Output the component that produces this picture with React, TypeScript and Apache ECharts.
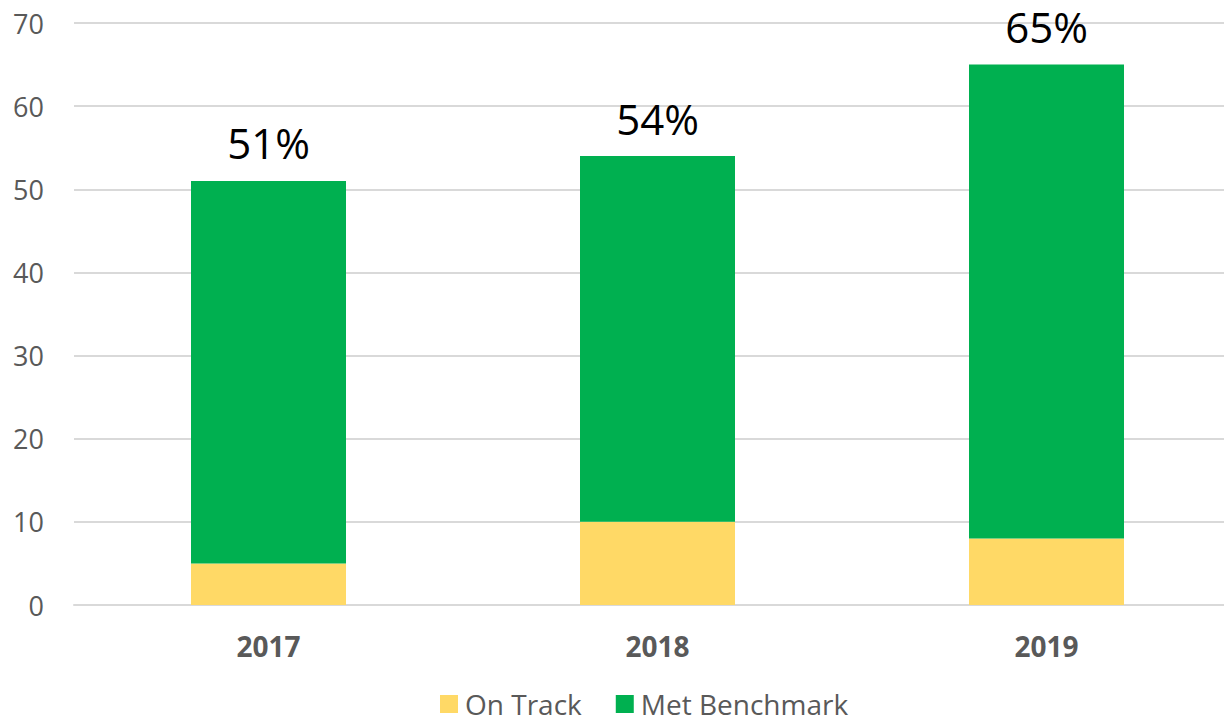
import React, { useEffect, useRef } from "react";
import * as echarts from "echarts";

const categories = ["2017", "2018", "2019"];
const onTrack = [5, 10, 8];
const metBenchmark = [46, 44, 57];
const totalLabels = ["51%", "54%", "65%"];

export default function App() {
  const ref = useRef<HTMLDivElement>(null);
  useEffect(() => {
    if (!ref.current) return;
    const chart = echarts.init(ref.current, undefined, { renderer: "svg" });
    const font = "'Open Sans', 'Noto Sans', sans-serif";
    chart.setOption({
      animation: false,
      textStyle: { fontFamily: font },
      grid: { left: 74, right: 0, top: 23, bottom: 111, containLabel: false },
      legend: {
        data: ["On Track", "Met Benchmark"],
        top: 685,
        left: 435,
        itemWidth: 18,
        itemHeight: 18,
        itemGap: 34,
        icon: "rect",
        textStyle: { fontSize: 28, color: "#595959", fontFamily: font, padding: [0, 0, 0, 2] },
      },
      xAxis: {
        type: "category",
        data: categories,
        axisLine: { show: true, lineStyle: { color: "#d9d9d9", width: 2 } },
        axisTick: { show: false },
        axisLabel: { fontSize: 28, fontWeight: "bold", color: "#595959", margin: 27, fontFamily: font },
      },
      yAxis: {
        type: "value",
        min: 0,
        max: 70,
        interval: 10,
        axisLine: { show: false },
        axisTick: { show: false },
        splitLine: { lineStyle: { color: "#d9d9d9", width: 2 } },
        axisLabel: { fontSize: 27, color: "#595959", margin: 30, fontFamily: font },
      },
      series: [
        {
          name: "On Track",
          type: "bar",
          stack: "total",
          data: onTrack,
          barWidth: 155,
          itemStyle: { color: "#FFD966" },
        },
        {
          name: "Met Benchmark",
          type: "bar",
          stack: "total",
          data: metBenchmark,
          barWidth: 155,
          itemStyle: { color: "#00B050" },
          label: {
            show: true,
            position: "top",
            distance: 17,
            fontSize: 42,
            color: "#000000",
            fontFamily: font,
            formatter: (p: any) => totalLabels[p.dataIndex],
          },
        },
      ],
    });
    return () => chart.dispose();
  }, []);
  return (
    <div
      ref={ref}
      style={{ position: "fixed", left: 0, top: 0, width: 1241, height: 716, background: "#fff" }}
    />
  );
}
